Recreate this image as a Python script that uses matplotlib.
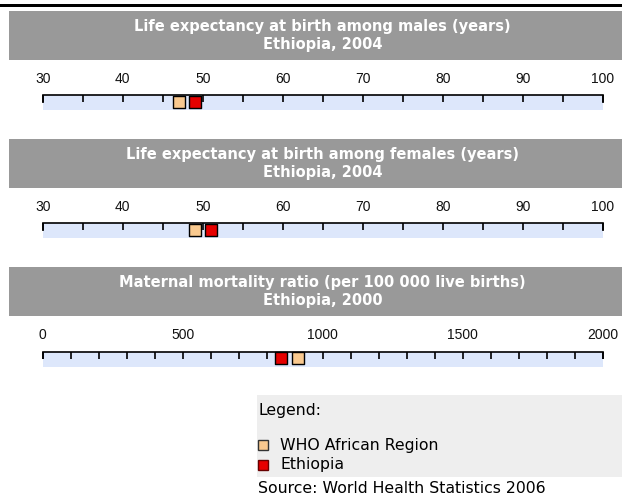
import matplotlib
matplotlib.use("Agg")
import matplotlib.pyplot as plt
from matplotlib.patches import Rectangle
from matplotlib.lines import Line2D
from matplotlib.ticker import MultipleLocator

# data
titles = ["Life expectancy at birth among males (years)",
          "Life expectancy at birth among females (years)",
          "Maternal mortality ratio (per 100 000 live births)"]
subtitles = ["Ethiopia, 2004", "Ethiopia, 2004", "Ethiopia, 2000"]
axis_min = [30, 30, 0]
axis_max = [100, 100, 2000]
major_step = [10, 10, 500]
minor_step = [5, 5, 100]
who_values = [47, 49, 910]
ethiopia_values = [49, 51, 850]
series_names = ["WHO African Region", "Ethiopia"]

HEADER_GREY = "#999999"
BAND_BLUE = "#dde7fb"
PEACH = "#f9c98f"
RED = "#e60000"

W, H = 622, 498
fig = plt.figure(figsize=(W / 100, H / 100), dpi=100)


def px_rect(x0, y0, x1, y1):
    # pixel box (top-left origin) -> figure fraction [l, b, w, h]
    return [x0 / W, 1 - y1 / H, (x1 - x0) / W, (y1 - y0) / H]


def fx(x):
    return x / W


def fy(y):
    return 1 - y / H


# thick rule at the very top
fig.patches.append(Rectangle((0, fy(7.5)), 1, 3.5 / H, transform=fig.transFigure,
                             color="black", lw=0))

for i in range(3):
    top = 11 + 128 * i
    fig.patches.append(Rectangle((fx(9), fy(top + 49)), (W - 9) / W, 49 / H,
                                 transform=fig.transFigure, color=HEADER_GREY, lw=0))
    fig.text(fx(322.7), fy(top + 15.5), titles[i], color="white", weight="bold",
             fontsize=10.5, ha="center", va="center", family="DejaVu Sans")
    fig.text(fx(322.7), fy(top + 33), subtitles[i], color="white", weight="bold",
             fontsize=10.5, ha="center", va="center", family="DejaVu Sans")

    ax = fig.add_axes(px_rect(42.7, top + 84.5, 602.7, top + 99.5))
    ax.set_facecolor(BAND_BLUE)
    ax.set_xlim(axis_min[i], axis_max[i])
    ax.set_ylim(0, 1)
    for s in ["left", "right", "bottom"]:
        ax.spines[s].set_visible(False)
    ax.spines["top"].set_linewidth(1.2)
    ax.yaxis.set_visible(False)
    ax.xaxis.tick_top()
    ax.xaxis.set_major_locator(MultipleLocator(major_step[i]))
    ax.xaxis.set_minor_locator(MultipleLocator(minor_step[i]))
    ax.tick_params(axis="x", which="both", direction="in", length=5, width=1.2,
                   color="black", pad=6.5, labelsize=10, labelcolor="#111111")
    for lab in ax.get_xticklabels():
        lab.set_family("Liberation Sans")

    # ends of the scale drawn a bit longer
    ax.vlines([axis_min[i], axis_max[i]], 0.5, 1, color="black", lw=1.2, clip_on=False)

    ax.scatter([who_values[i]], [0.55], marker="s", s=80, color=PEACH,
               edgecolor="black", lw=1, zorder=5, clip_on=False)
    ax.scatter([ethiopia_values[i]], [0.55], marker="s", s=80, color=RED,
               edgecolor="black", lw=1, zorder=5, clip_on=False)

# legend box
fig.patches.append(Rectangle((fx(257), fy(477)), (W - 257) / W, 82 / H,
                             transform=fig.transFigure, color="#eeeeee", lw=0))
fig.text(fx(258), fy(410), "Legend:", fontsize=11.3, va="center", family="DejaVu Sans")
legend_colors = [PEACH, RED]
legend_edges = ["#333333", "#660000"]
for j, name in enumerate(series_names):
    yy = 445 + 20 * j
    fig.lines.append(Line2D([fx(262.5)], [fy(yy)], marker="s", markersize=7.5,
                            markerfacecolor=legend_colors[j], markeredgecolor=legend_edges[j],
                            markeredgewidth=1, transform=fig.transFigure))
    fig.text(fx(280), fy(yy), name, fontsize=11.3, va="center", family="DejaVu Sans")

fig.text(fx(258), fy(488), "Source: World Health Statistics 2006", fontsize=11.3,
         va="center", family="DejaVu Sans")

fig.savefig("out.png", dpi=100)
